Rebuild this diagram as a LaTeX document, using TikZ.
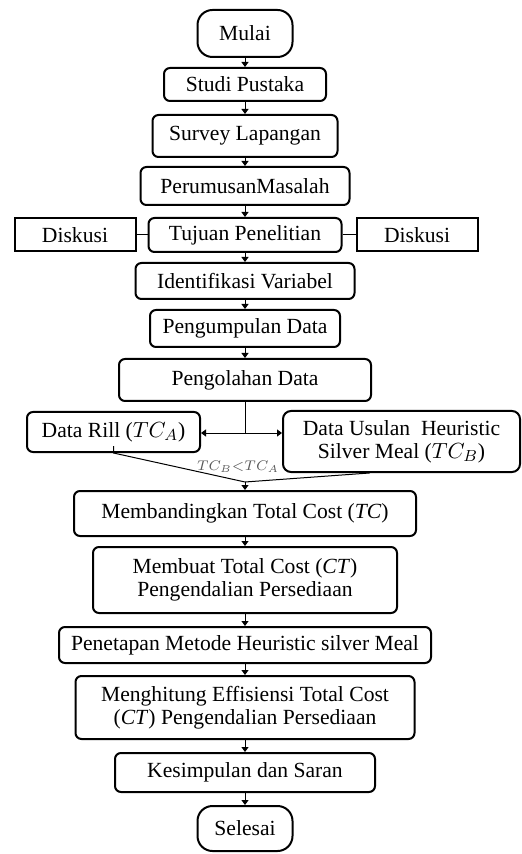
\documentclass[tikz,border=0pt]{standalone}
\usepackage{fontspec}
\setmainfont{Liberation Serif}
\usepackage{amsmath}
\usetikzlibrary{positioning, arrows.meta}
\usetikzlibrary{calc}

\begin{document}
\begin{tikzpicture}[box/.style={draw, line width=1pt, rounded corners=3pt, align=center, inner sep=0pt},
  term/.style={box, rounded corners=7.5pt, minimum width=47.5pt, minimum height=23.5pt},
  side/.style={draw, line width=1pt, inner sep=0pt, minimum width=60.5pt, minimum height=16.5pt},
  arr/.style={line width=0.5pt, -{Triangle[length=2.5pt, width=3.5pt]}},
  font=\fontsize{10.8pt}{11.5pt}\selectfont]
  \useasboundingbox (0,0) rectangle (261pt,-427pt);

  \node[term] (mulai) at (122.5pt,-16.75pt) {Mulai};
  \node[box, minimum width=81pt, minimum height=16.5pt] (studi) [below=4.5pt of mulai] {Studi Pustaka};
  \node[box, minimum width=92.5pt, minimum height=21pt] (survey) [below=6pt of studi] {Survey Lapangan};
  \node[box, minimum width=104.5pt, minimum height=19pt] (rumusan) [below=4pt of survey] {PerumusanMasalah};
  \node[box, minimum width=96.5pt, minimum height=17pt] (tujuan) [below=5.5pt of rumusan] {Tujuan Penelitian};
  \node[side] (diskL) [left=5.5pt of tujuan] {Diskusi};
  \node[side] (diskR) [right=6.5pt of tujuan] {Diskusi};
  \node[box, minimum width=109.5pt, minimum height=18pt] (ident) [below=4.5pt of tujuan] {Identifikasi Variabel};
  \node[box, minimum width=95pt, minimum height=18.5pt] (kumpul) [below=4.5pt of ident] {Pengumpulan Data};
  \node[box, minimum width=126pt, minimum height=21pt] (olah) [below=5pt of kumpul] {Pengolahan Data};
  \node[box, minimum width=86.5pt, minimum height=20pt] (rill) [below left=4.5pt and -41.5pt of olah] {Data Rill ($TC_A$)};
  \node[box, rounded corners=4pt, minimum width=118.5pt, minimum height=30.5pt] (usulan) [below right=4pt and -45pt of olah] {Data Usulan \ Heuristic\\Silver Meal ($TC_B$)};
  \node[box, minimum width=171pt, minimum height=22.5pt] (banding) [below=44pt of olah] {Membandingkan Total Cost (\textit{TC})};
  \node[box, minimum width=152pt, minimum height=33pt] (buat) [below=4.5pt of banding] {Membuat Total Cost (\textit{CT})\\Pengendalian Persediaan};
  \node[box, minimum width=186pt, minimum height=18pt] (tetap) [below=6pt of buat] {Penetapan Metode Heuristic silver Meal};
  \node[box, minimum width=169.5pt, minimum height=31.5pt] (hitung) [below=5.5pt of tetap] {Menghitung Effisiensi Total Cost\\(\textit{CT}) Pengendalian Persediaan};
  \node[box, minimum width=130pt, minimum height=19.5pt] (simpul) [below=6pt of hitung] {Kesimpulan dan Saran};
  \node[term, minimum height=22.5pt] (selesai) [below=6pt of simpul] {Selesai};

  \coordinate (split) at ([yshift=-15.5pt]olah.south);
  \coordinate (merge) at ([yshift=4pt]banding.north);
  \node[font=\fontsize{7pt}{8pt}\selectfont, text=black!65, inner sep=1pt] (syarat) [above=3.5pt of merge, xshift=-3.5pt] {$TC_B{<}TC_A$};

  \path[arr]
  (mulai) edge (studi)
  (studi) edge (survey)
  (survey) edge (rumusan)
  (rumusan) edge (tujuan)
  (tujuan) edge (ident)
  (ident) edge (kumpul)
  (kumpul) edge (olah)
  (merge) edge (banding)
  (banding) edge (buat)
  (buat) edge (tetap)
  (tetap) edge (hitung)
  (hitung) edge (simpul)
  (simpul) edge (selesai);

  \draw[line width=0.5pt] (diskL) -- (tujuan) -- (diskR);
  \draw[line width=0.5pt] (olah.south) -- (split);
  \draw[arr] (split) -- (split -| rill.east);
  \draw[arr] (split) -- (split -| usulan.west);
  \draw[line width=0.5pt] ([yshift=3.5pt]rill.south) -- (rill.south) -- (merge);
  \draw[line width=0.5pt] ([xshift=-16pt]usulan.south) -- (merge);
\end{tikzpicture}
\end{document}
